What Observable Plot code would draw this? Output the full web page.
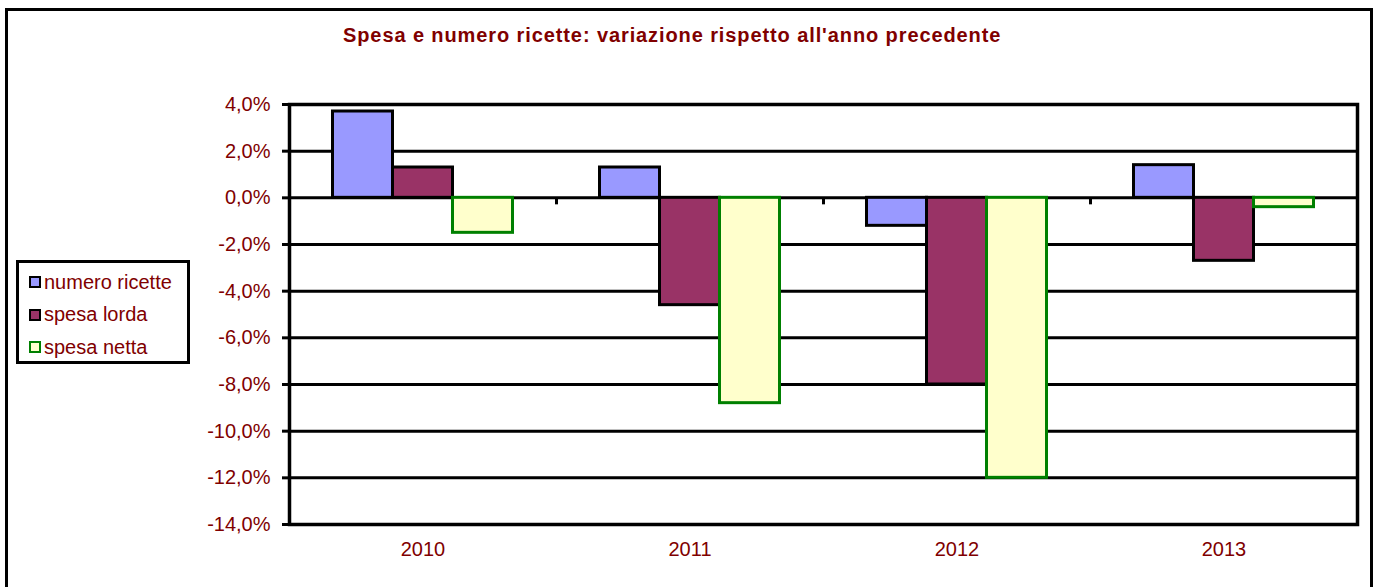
<!DOCTYPE html>
<html>
<head>
<meta charset="utf-8">
<script src="https://cdn.jsdelivr.net/npm/d3@7"></script>
<script src="https://cdn.jsdelivr.net/npm/@observablehq/plot@0.6"></script>
<style>
  html, body { margin: 0; padding: 0; background: #fff; overflow: hidden; }
  #wrap { position: relative; width: 1378px; height: 587px; font-family: Arial, "Liberation Sans", sans-serif; }
  #border { position: absolute; left: 5px; top: 8px; width: 1368px; height: 700px; border: 3px solid #000; box-sizing: border-box; }
  #title { position: absolute; left: 343px; top: 24px; font-size: 20px; font-weight: bold; color: #800000; letter-spacing: 0.9px; white-space: nowrap; }
  #legend { position: absolute; left: 16px; top: 260px; width: 174px; height: 104px; border: 3px solid #000; box-sizing: border-box; background: #fff; }
  .item { position: absolute; left: 10px; height: 24px; display: flex; align-items: center; font-size: 20px; color: #800000; white-space: nowrap; }
  .sw { width: 8px; height: 8px; border: 2px solid #000; margin-right: 3px; }
  #chart { position: absolute; left: 0; top: 0; }
</style>
</head>
<body>
<div id="wrap">
  <div id="border"></div>
  <div id="chart"></div>
  <div id="title"></div>
  <div id="legend"></div>
</div>
<script>
const titleText = "Spesa e numero ricette: variazione rispetto all'anno precedente";
const years = ["2010", "2011", "2012", "2013"];
const seriesNames = ["numero ricette", "spesa lorda", "spesa netta"];
const numeroRicette = [3.7, 1.3, -1.2, 1.4];
const spesaLorda = [1.3, -4.6, -8.0, -2.7];
const spesaNetta = [-1.5, -8.8, -12.0, -0.4];
const yTicks = [4, 2, 0, -2, -4, -6, -8, -10, -12, -14];

const fills = ["#9999FF", "#993366", "#FFFFCC"];
const strokes = ["#000000", "#000000", "#008000"];
const seriesValues = [numeroRicette, spesaLorda, spesaNetta];

document.getElementById("title").textContent = titleText;

const legend = document.getElementById("legend");
seriesNames.forEach((name, i) => {
  const it = document.createElement("div");
  it.className = "item";
  it.style.top = (7 + i * 32.5) + "px";
  const sw = document.createElement("div");
  sw.className = "sw";
  sw.style.background = fills[i];
  sw.style.borderColor = strokes[i];
  const tx = document.createElement("span");
  tx.textContent = name;
  it.appendChild(sw);
  it.appendChild(tx);
  legend.appendChild(it);
});

const W = 1378, H = 587, mL = 289, mR = 21, mT = 104, mB = 63;
const band = (W - mL - mR) / years.length;
const half = band / 2;
const barW = 60;

const fmt = d => d.toFixed(1).replace(".", ",") + "%";

const barMarks = seriesValues.map((vals, i) => {
  const data = years.map((y, j) => ({year: y, value: vals[j]}));
  const left = half - 1.5 * barW + i * barW;
  return Plot.rectY(data, {
    x: "year", y1: 0, y2: "value",
    fill: fills[i], stroke: strokes[i], strokeWidth: 3,
    insetLeft: left, insetRight: band - left - barW
  });
});

const chart = Plot.plot({
  width: W, height: H,
  marginLeft: mL, marginRight: mR, marginTop: mT, marginBottom: mB,
  style: {fontFamily: "Arial, 'Liberation Sans', sans-serif", fontSize: "20px", background: "transparent"},
  x: {type: "band", domain: years, padding: 0},
  y: {domain: [-14, 4]},
  marks: [
    Plot.ruleY(yTicks, {stroke: "#000", strokeWidth: 3}),
    ...barMarks,
    Plot.ruleX(years, {x: d => d, y1: 0, y2: -0.3, dx: half, stroke: "#000", strokeWidth: 3}),
    Plot.frame({stroke: "#000", strokeWidth: 3.5}),
    Plot.axisY(yTicks, {tickFormat: fmt, tickSize: 7, tickPadding: 12, stroke: "#000", strokeWidth: 3, fill: "#800000", fontSize: 20, label: null}),
    Plot.axisX({tickSize: 0, tickPadding: 17, fill: "#800000", fontSize: 20, label: null})
  ]
});
document.getElementById("chart").appendChild(chart);
</script>
</body>
</html>
